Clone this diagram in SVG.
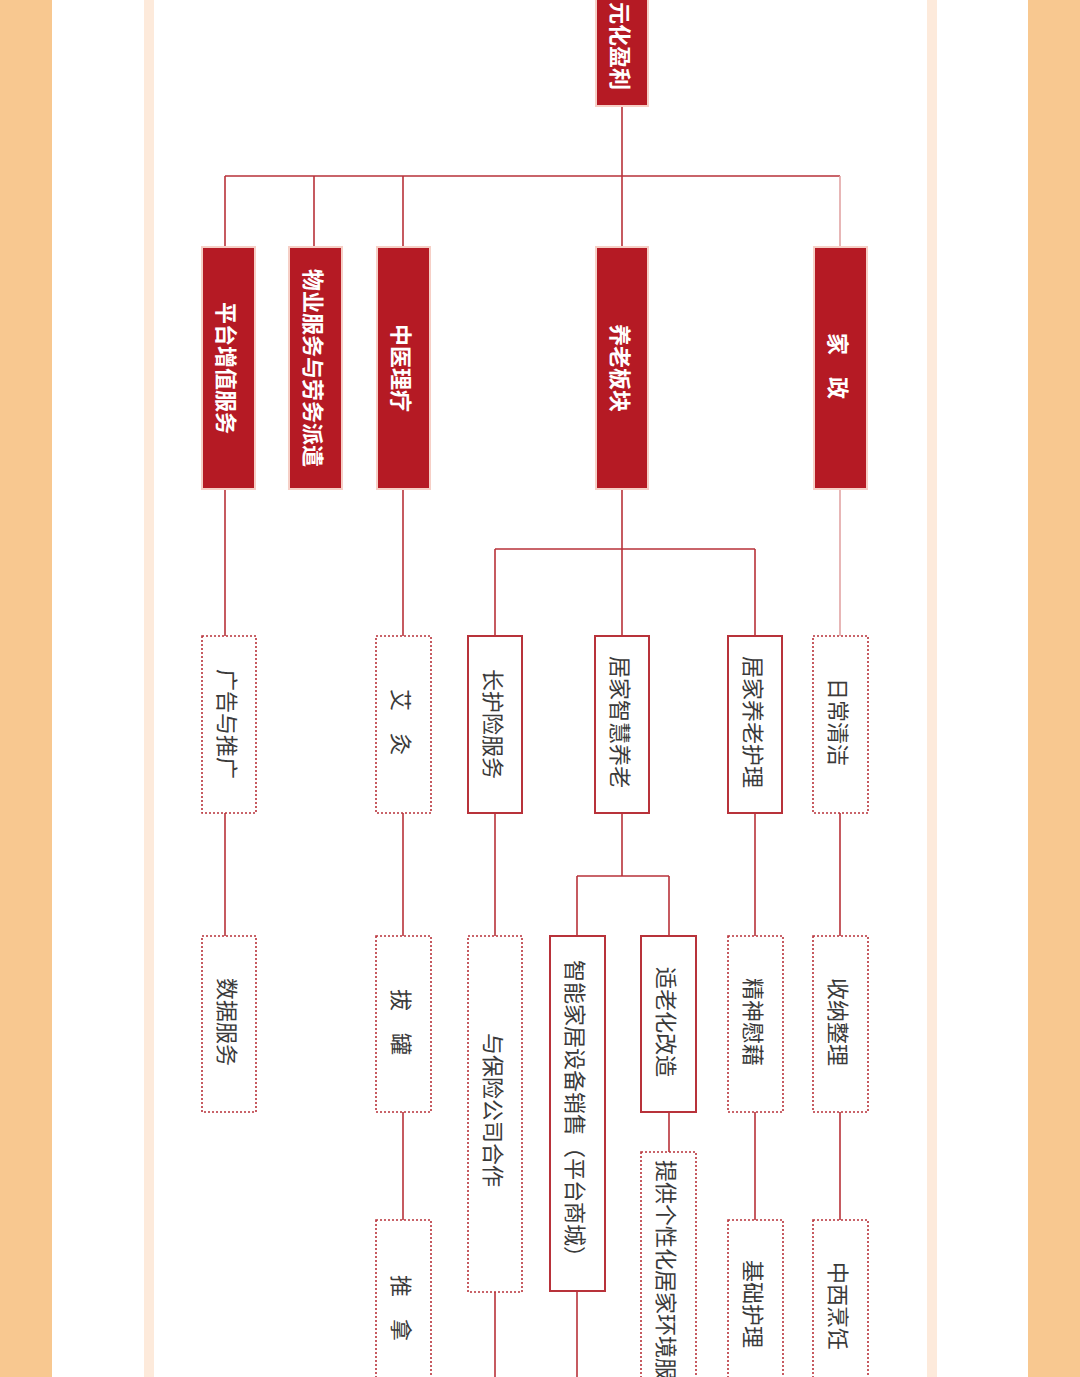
<svg xmlns="http://www.w3.org/2000/svg" width="1080" height="1377" viewBox="0 0 1080 1377">
<style>
.red{fill:#b51a24;stroke:#f6cfc6;stroke-width:2}
.sol{fill:#fff;stroke:#b8323a;stroke-width:2}
.dot{fill:#fff;stroke:#b8323a;stroke-width:1.6;stroke-dasharray:2 2}
.tw{fill:#fff;font:bold 22px "Noto Sans CJK SC",sans-serif}
.tg{fill:#3a3a3a;font:22px "Noto Sans CJK SC",sans-serif}
.c{stroke:#b8323a;stroke-width:1.6;fill:none}
</style>
<rect width="1080" height="1377" fill="#fff"/>
<rect x="0" y="0" width="52" height="1377" fill="#f8c890"/>
<rect x="1028" y="0" width="52" height="1377" fill="#f8c890"/>
<rect x="144" y="0" width="10" height="1377" fill="#fdeadb"/>
<rect x="927" y="0" width="10" height="1377" fill="#fdeadb"/>
<g id="connectors">
<path class="c" d="M622 106V247M225 176H840M225 176V247M314 176V247M403 176V247"/>
<path d="M840 176V247" stroke="#e2a4a4" stroke-width="1.6"/>
<path d="M840 489V636" stroke="#e2a4a4" stroke-width="1.6"/>
<path class="c" d="M225 489V636M225 813V936M403 489V636M403 813V936M403 1112V1220M622 489V636M495 549H755M495 549V636M755 549V636M495 813V936M495 1292V1377M755 813V936M755 1112V1220M840 813V936M840 1112V1220M622 813V876M577 876H669M577 876V936M669 876V936M669 1112V1152M577 1291V1377"/>
</g>
<g id="root"><rect class="red" x="596" y="-5" width="52" height="111"/><text class="tw" transform="translate(622 90) rotate(90)" text-anchor="end" dominant-baseline="central">元化盈利</text></g>
<g id="n1"><rect class="red" x="202" y="247" width="53" height="242"/><text class="tw" transform="translate(228 368) rotate(90)" text-anchor="middle" dominant-baseline="central">平台增值服务</text></g>
<g id="n2"><rect class="red" x="289" y="247" width="53" height="242"/><text class="tw" transform="translate(315 368) rotate(90)" text-anchor="middle" dominant-baseline="central">物业服务与劳务派遣</text></g>
<g id="n3"><rect class="red" x="377" y="247" width="53" height="242"/><text class="tw" transform="translate(403 368) rotate(90)" text-anchor="middle" dominant-baseline="central">中医理疗</text></g>
<g id="n4"><rect class="red" x="596" y="247" width="52" height="242"/><text class="tw" transform="translate(622 368) rotate(90)" text-anchor="middle" dominant-baseline="central">养老板块</text></g>
<g id="n5"><rect class="red" x="814" y="247" width="53" height="242"/><text class="tw" transform="translate(840 366) rotate(90)" text-anchor="middle" dominant-baseline="central">家　政</text></g>
<g id="a1"><rect class="dot" x="202" y="636" width="54" height="177"/><text class="tg" transform="translate(229 724) rotate(90)" text-anchor="middle" dominant-baseline="central">广告与推广</text></g>
<g id="a2"><rect class="dot" x="376" y="636" width="55" height="177"/><text class="tg" transform="translate(403 722) rotate(90)" text-anchor="middle" dominant-baseline="central">艾　灸</text></g>
<g id="a3"><rect class="sol" x="468" y="636" width="54" height="177"/><text class="tg" transform="translate(495 724) rotate(90)" text-anchor="middle" dominant-baseline="central">长护险服务</text></g>
<g id="a4"><rect class="sol" x="595" y="636" width="54" height="177"/><text class="tg" transform="translate(622 722) rotate(90)" text-anchor="middle" dominant-baseline="central">居家智慧养老</text></g>
<g id="a5"><rect class="sol" x="728" y="636" width="54" height="177"/><text class="tg" transform="translate(755 722) rotate(90)" text-anchor="middle" dominant-baseline="central">居家养老护理</text></g>
<g id="a6"><rect class="dot" x="813" y="636" width="55" height="177"/><text class="tg" transform="translate(840 722) rotate(90)" text-anchor="middle" dominant-baseline="central">日常清洁</text></g>
<g id="b1"><rect class="dot" x="202" y="936" width="54" height="176"/><text class="tg" transform="translate(229 1022) rotate(90)" text-anchor="middle" dominant-baseline="central">数据服务</text></g>
<g id="b2"><rect class="dot" x="376" y="936" width="55" height="176"/><text class="tg" transform="translate(403 1022) rotate(90)" text-anchor="middle" dominant-baseline="central">拔　罐</text></g>
<g id="b3"><rect class="dot" x="468" y="936" width="54" height="356"/><text class="tg" transform="translate(495 1110) rotate(90)" text-anchor="middle" dominant-baseline="central">与保险公司合作</text></g>
<g id="b4"><rect class="sol" x="550" y="936" width="55" height="355"/><text class="tg" transform="translate(577 1114) rotate(90)" text-anchor="middle" dominant-baseline="central">智能家居设备销售（平台商城）</text></g>
<g id="b5"><rect class="sol" x="641" y="936" width="55" height="176"/><text class="tg" transform="translate(668 1022) rotate(90)" text-anchor="middle" dominant-baseline="central">适老化改造</text></g>
<g id="b6"><rect class="dot" x="728" y="936" width="55" height="176"/><text class="tg" transform="translate(755 1022) rotate(90)" text-anchor="middle" dominant-baseline="central">精神慰藉</text></g>
<g id="b7"><rect class="dot" x="813" y="936" width="55" height="176"/><text class="tg" transform="translate(840 1022) rotate(90)" text-anchor="middle" dominant-baseline="central">收纳整理</text></g>
<g id="c1"><rect class="dot" x="376" y="1220" width="55" height="180"/><text class="tg" transform="translate(403 1275) rotate(90)" text-anchor="start" dominant-baseline="central">推　拿</text></g>
<g id="c2"><rect class="dot" x="641" y="1152" width="55" height="250"/><text class="tg" transform="translate(668 1160) rotate(90)" text-anchor="start" dominant-baseline="central">提供个性化居家环境服务</text></g>
<g id="c3"><rect class="dot" x="728" y="1220" width="55" height="180"/><text class="tg" transform="translate(755 1260) rotate(90)" text-anchor="start" dominant-baseline="central">基础护理</text></g>
<g id="c4"><rect class="dot" x="813" y="1220" width="55" height="180"/><text class="tg" transform="translate(840 1262) rotate(90)" text-anchor="start" dominant-baseline="central">中西烹饪</text></g>
</svg>
